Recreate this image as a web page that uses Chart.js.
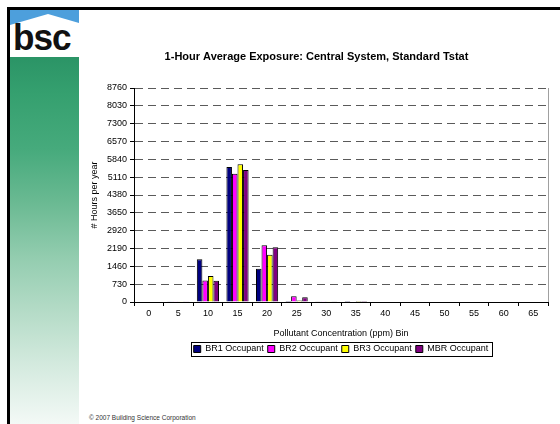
<!DOCTYPE html>
<html>
<head>
<meta charset="utf-8">
<title>1-Hour Average Exposure</title>
<script src="https://cdn.jsdelivr.net/npm/chart.js@4.4.0/dist/chart.umd.min.js"></script>
<style>
  body { margin: 0; width: 560px; height: 424px; overflow: hidden; background: #fff; position: relative;
         font-family: "Liberation Sans", Arial, sans-serif; }
  .frame-top { position: absolute; left: 7px; top: 7px; width: 553px; height: 3px; background: #000; }
  .frame-left { position: absolute; left: 7px; top: 7px; width: 3px; height: 417px; background: #000; }
  .logo { position: absolute; left: 10px; top: 10px; width: 69px; height: 47px; background: #4d9fdc; overflow: hidden; }
  .logo .roof { position: absolute; left: 0; top: 0; width: 69px; height: 47px; background: #fff;
                clip-path: polygon(0 15px, 38px 4px, 69px 13px, 69px 47px, 0 47px); }
  .logo .word { position: absolute; left: 3px; top: 9px; font: bold 37px/37px "Liberation Sans", Arial, sans-serif;
                color: #111; letter-spacing: -1px; transform: scaleX(0.95); transform-origin: left top; }
  .strip { position: absolute; left: 10px; top: 57px; width: 69px; height: 367px;
           background: linear-gradient(to bottom, #2b9466 0%, #35a06f 10%, #46aa7c 25%, #6bba93 40%,
                                       #94cdb0 55%, #b6dcc8 70%, #d6ebe0 85%, #f3f9f6 100%); }
  .copy { position: absolute; left: 89px; top: 414px; font-size: 6.5px; color: #333; white-space: nowrap; }
  #chart { position: absolute; left: 0; top: 0; }
</style>
</head>
<body>
<div class="frame-top"></div>
<div class="frame-left"></div>
<div class="logo"><div class="roof"></div><div class="word">bsc</div></div>
<div class="strip"></div>
<div class="copy">© 2007 Building Science Corporation</div>
<canvas id="chart" width="560" height="424"></canvas>
<script>
// concentration bins (ppm) and hours per year spent in each bin
const bins = ['0', '5', '10', '15', '20', '25', '30', '35', '40', '45', '50', '55', '60', '65'];
const br1Hours = [0, 8, 1755, 5530, 1365, 45, 12, 5, 0, 0, 0, 0, 0, 0];
const br2Hours = [0, 6, 880, 5245, 2325, 240, 10, 0, 0, 0, 0, 0, 0, 0];
const br3Hours = [0, 6, 1065, 5640, 1935, 65, 8, 4, 0, 0, 0, 0, 0, 0];
const mbrHours = [0, 8, 865, 5405, 2245, 190, 12, 5, 0, 0, 0, 0, 0, 0];

const seriesNames = ['BR1 Occupant', 'BR2 Occupant', 'BR3 Occupant', 'MBR Occupant'];
const seriesColors = ['#000080', '#ff00ff', '#ffff00', '#800080'];
const yMax = 8760;
const yStep = 730;

Chart.defaults.font.family = '"Liberation Sans", Arial, sans-serif';
Chart.defaults.color = '#000';

// thin outline round the legend entries
const legendFrame = {
  id: 'legendFrame',
  afterDraw(chart) {
    const boxes = chart.legend.legendHitBoxes;
    if (!boxes || !boxes.length) return;
    const left = Math.min(...boxes.map(b => b.left)) - 3;
    const right = Math.max(...boxes.map(b => b.left + b.width)) + 3;
    const top = boxes[0].top - 2.5;
    const bottom = boxes[0].top + boxes[0].height + 2.5;
    const ctx = chart.ctx;
    ctx.save();
    ctx.strokeStyle = '#000';
    ctx.lineWidth = 1;
    ctx.strokeRect(Math.round(left) + 0.5, Math.round(top) + 0.5, Math.round(right - left), Math.round(bottom - top));
    ctx.restore();
  }
};

// grey edge on the right of the plot area
const plotEdge = {
  id: 'plotEdge',
  beforeDatasetsDraw(chart) {
    const a = chart.chartArea;
    const ctx = chart.ctx;
    ctx.save();
    ctx.strokeStyle = '#a0a0a0';
    ctx.lineWidth = 1;
    ctx.beginPath();
    ctx.moveTo(Math.round(a.right) + 0.5, a.top);
    ctx.lineTo(Math.round(a.right) + 0.5, a.bottom);
    ctx.stroke();
    ctx.restore();
  }
};

const hourSeries = [br1Hours, br2Hours, br3Hours, mbrHours];

new Chart(document.getElementById('chart'), {
  type: 'bar',
  data: {
    labels: bins,
    datasets: hourSeries.map((vals, i) => ({
      label: seriesNames[i],
      data: vals,
      backgroundColor: seriesColors[i],
      borderColor: '#000',
      borderWidth: 1,
      categoryPercentage: 0.75,
      barPercentage: 1.0
    }))
  },
  options: {
    responsive: false,
    animation: false,
    devicePixelRatio: 1,
    layout: { padding: { left: 85, right: 12, top: 0, bottom: 60.5 } },
    plugins: {
      title: {
        display: true,
        text: '1-Hour Average Exposure: Central System, Standard Tstat',
        font: { size: 11, weight: 'bold' },
        color: '#000',
        padding: { top: 50, bottom: 24.8 }
      },
      legend: {
        position: 'bottom',
        fullSize: false,
        labels: { boxWidth: 7, boxHeight: 7, padding: 4, font: { size: 9 }, color: '#000' }
      },
      tooltip: { enabled: false }
    },
    scales: {
      x: {
        afterFit(scale) { scale.height = 38.5; },
        grid: { drawOnChartArea: false, drawTicks: true, tickLength: 4, tickColor: '#000' },
        border: { color: '#000', width: 1 },
        ticks: { padding: 2, autoSkip: false, maxRotation: 0, font: { size: 9 }, color: '#000' },
        title: { display: true, text: 'Pollutant Concentration (ppm) Bin', font: { size: 9 }, color: '#000',
                 padding: { top: 4, bottom: 2 } }
      },
      y: {
        min: 0,
        max: yMax,
        afterFit(scale) { scale.width = 49; },
        grid: { color: '#5a5a5a', lineWidth: 1, tickLength: 4, tickColor: '#000' },
        border: { color: '#000', width: 1, dash: [8, 5] },
        ticks: { stepSize: yStep, padding: 3, font: { size: 9 }, color: '#000',
                 callback: (v) => String(v) },
        title: { display: true, text: '# Hours per year', font: { size: 9 }, color: '#000',
                 padding: { top: 4.5, bottom: 0 } }
      }
    }
  },
  plugins: [legendFrame, plotEdge]
});
</script>
</body>
</html>
